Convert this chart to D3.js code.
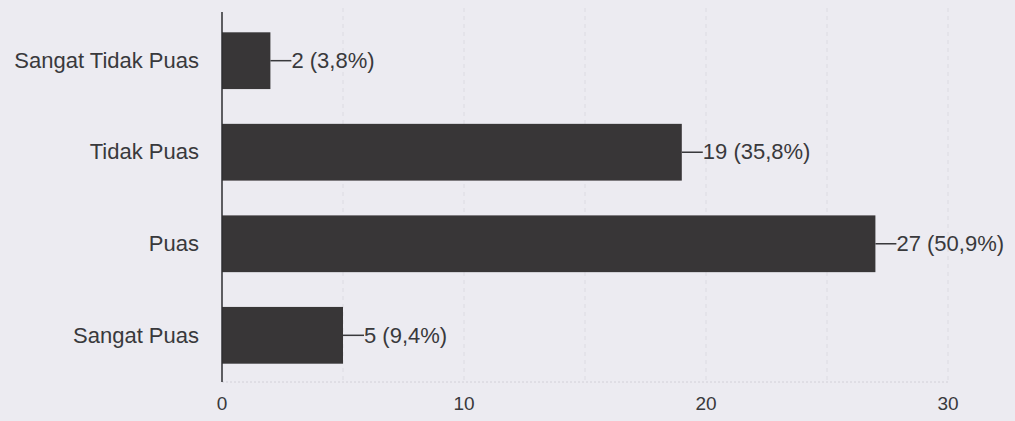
<!DOCTYPE html>
<html><head><meta charset="utf-8">
<script src="https://cdn.jsdelivr.net/npm/d3@7"></script>
<style>
html,body{margin:0;padding:0;background:#ecebf1;}
svg{display:block;}
text{font-family:"Liberation Sans",Arial,sans-serif;fill:#39393c;}
</style></head>
<body>
<svg id="c" width="1015" height="421"></svg>
<script>
const categories = ["Sangat Tidak Puas", "Tidak Puas", "Puas", "Sangat Puas"];
const values = [2, 19, 27, 5];
const percentLabels = ["3,8%", "35,8%", "50,9%", "9,4%"];
const tickValues = [0, 10, 20, 30];
const gridValues = [5, 10, 15, 20, 25, 30];

const svg = d3.select("#c");
const x = d3.scaleLinear().domain([0, 30]).range([222, 948]);
const y = d3.scaleBand().domain(categories).range([14, 382]).paddingInner(0.38).paddingOuter(0.2);
const fs = 22;

// grid
svg.append("g").selectAll("line").data(gridValues).join("line")
  .attr("x1", d => x(d)).attr("x2", d => x(d))
  .attr("y1", 8).attr("y2", 382)
  .attr("stroke", "#dcdbe2").attr("stroke-width", 1).attr("stroke-dasharray", "4,4");
svg.append("line").attr("x1", x(0)).attr("x2", x(30)).attr("y1", 382).attr("y2", 382)
  .attr("stroke", "#d2d0d8").attr("stroke-dasharray", "2,2");

// bars
svg.append("g").selectAll("rect").data(values).join("rect")
  .attr("x", x(0)).attr("y", (d, i) => y(categories[i]))
  .attr("width", d => x(d) - x(0)).attr("height", y.bandwidth())
  .attr("fill", "#383637");

// y axis line
svg.append("line").attr("x1", x(0)).attr("x2", x(0)).attr("y1", 12).attr("y2", 382)
  .attr("stroke", "#2e2e30").attr("stroke-width", 1.5);

// category labels
svg.append("g").selectAll("text").data(categories).join("text")
  .attr("x", 199).attr("y", d => y(d) + y.bandwidth() / 2)
  .attr("dy", "0.33em").attr("text-anchor", "end").attr("font-size", fs)
  .text(d => d);

// value labels with leader line
const lab = svg.append("g").selectAll("g").data(values).join("g")
  .attr("transform", (d, i) => `translate(${x(d)},${y(categories[i]) + y.bandwidth() / 2})`);
lab.append("line").attr("x1", 0).attr("x2", 21).attr("y1", 0).attr("y2", 0)
  .attr("stroke", "#39393c").attr("stroke-width", 1.5);
lab.append("text").attr("x", 21).attr("dy", "0.33em").attr("font-size", fs)
  .text((d, i) => `${d} (${percentLabels[i]})`);

// x tick labels
svg.append("g").selectAll("text").data(tickValues).join("text")
  .attr("x", d => x(d)).attr("y", 410).attr("text-anchor", "middle").attr("font-size", 19)
  .text(d => d);
</script>
</body></html>
